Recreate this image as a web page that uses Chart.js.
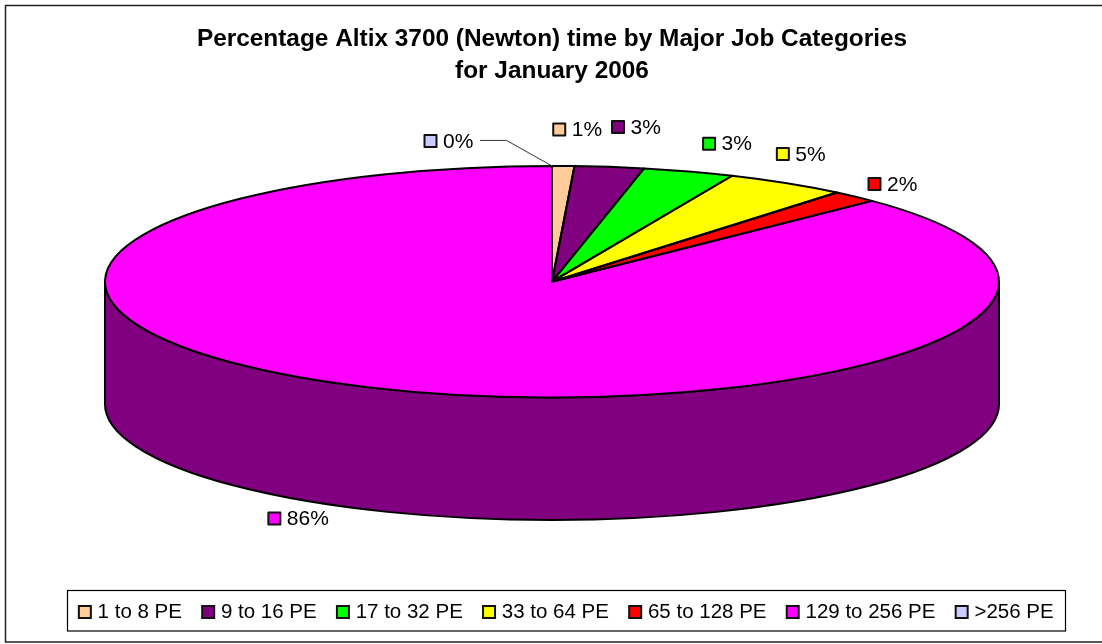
<!DOCTYPE html>
<html>
<head>
<meta charset="utf-8">
<style>html,body{margin:0;padding:0;background:#fff}canvas{display:block}</style>
<script src="https://cdn.jsdelivr.net/npm/chart.js@4"></script>
</head>
<body>
<canvas id="c" width="1102" height="644"></canvas>
<script>
const categories = ['1 to 8 PE','9 to 16 PE','17 to 32 PE','33 to 64 PE','65 to 128 PE','129 to 256 PE','>256 PE'];
const sliceValues = [0.8,2.5,3.3,4.4,1.7,87.3,0];
const percentLabels = ['1%','3%','3%','5%','2%','86%','0%'];
const sliceColors = ['#FFCC99','#800080','#00FF00','#FFFF00','#FF0000','#FF00FF','#CCCCFF'];
const sideColors = ['#806650','#400040','#008000','#808000','#800000','#800080','#666680'];
const chartTitle = ['Percentage Altix 3700 (Newton) time by Major Job Categories','for January 2006'];

const FONT = '"Liberation Sans", Arial, sans-serif';
const RX = 447, DEPTH = 122.5;
// label offset (swatch centre) from the rim point at each slice's mid-angle
const labelOffsets = [[-4,-36.5],[8.6,-40],[20.3,-27.8],[-3.9,-29.3],[19.6,-12.6],[-104,130],[-121.5,-25]];

const pie3d = {
  id:'pie3d',
  afterLayout(chart){
    const l = chart.legend;
    const dy = 578 - l.top, dx = 16;
    l.top += dy; l.bottom += dy; l.left += dx; l.right += dx;
  },
  beforeDraw(chart){
    const ctx = chart.ctx;
    ctx.save();
    ctx.strokeStyle = '#222'; ctx.lineWidth = 1.5;
    ctx.strokeRect(5.5,5.5,1100,636.5);
    ctx.strokeStyle = '#000'; ctx.lineWidth = 1.2;
    ctx.strokeRect(67.5,590.5,998,40.5);
    ctx.restore();
  },
  beforeDatasetsDraw(chart){
    const ctx = chart.ctx, arcs = chart.getDatasetMeta(0).data;
    const a0 = arcs[0], ry = a0.outerRadius, cx = a0.x, cy = a0.y;
    ctx.save();
    ctx.lineWidth = 2; ctx.strokeStyle = '#000'; ctx.lineJoin = 'round';
    arcs.forEach((a,i)=>{
      const s = Math.max(a.startAngle,0), e = Math.min(a.endAngle,Math.PI);
      if (s >= e) return;
      ctx.beginPath();
      ctx.ellipse(cx,cy,RX,ry,0,s,e,false);
      ctx.ellipse(cx,cy+DEPTH,RX,ry,0,e,s,true);
      ctx.closePath();
      ctx.fillStyle = sideColors[i];
      ctx.fill(); ctx.stroke();
    });
    ctx.restore();
    ctx.save();
    ctx.translate(cx,0); ctx.scale(RX/ry,1); ctx.translate(-cx,0);
  },
  afterDatasetsDraw(chart){
    const ctx = chart.ctx, arcs = chart.getDatasetMeta(0).data;
    ctx.restore();
    const a0 = arcs[0], ry = a0.outerRadius, cx = a0.x, cy = a0.y;
    ctx.save();
    ctx.lineWidth = 2; ctx.strokeStyle = '#000'; ctx.lineJoin = 'round';
    arcs.forEach(a=>{
      if (a.endAngle - a.startAngle <= 0) return;
      ctx.beginPath();
      ctx.moveTo(cx,cy);
      ctx.ellipse(cx,cy,RX,ry,0,a.startAngle,a.endAngle,false);
      ctx.closePath();
      ctx.stroke();
    });
    ctx.font = '21px '+FONT; ctx.textBaseline = 'middle'; ctx.textAlign = 'left';
    arcs.forEach((a,i)=>{
      const m = (a.startAngle+a.endAngle)/2;
      const ax = cx+RX*Math.cos(m), ay = cy+ry*Math.sin(m);
      const sx = ax+labelOffsets[i][0], sy = ay+labelOffsets[i][1];
      ctx.fillStyle = sliceColors[i];
      ctx.lineWidth = 2; ctx.strokeStyle = '#111';
      ctx.fillRect(sx-6,sy-6,12,12); ctx.strokeRect(sx-6,sy-6,12,12);
      ctx.fillStyle = '#000';
      ctx.fillText(percentLabels[i],sx+12.5,sy+1);
      if (i === arcs.length-1){
        ctx.lineWidth = 1; ctx.strokeStyle = '#333';
        ctx.beginPath();
        ctx.moveTo(sx+49.5,sy-0.5); ctx.lineTo(sx+76,sy-0.5); ctx.lineTo(ax,ay);
        ctx.stroke();
      }
    });
    ctx.restore();
  }
};

new Chart(document.getElementById('c'),{
  type:'pie',
  data:{labels:categories,datasets:[{data:sliceValues,backgroundColor:sliceColors,borderWidth:0,clip:false}]},
  options:{
    responsive:false,animation:false,
    layout:{padding:{left:2,right:0,top:0,bottom:192.25}},
    plugins:{
      title:{display:true,text:chartTitle,color:'#000',font:{family:FONT,size:24.4,weight:'bold',lineHeight:1.31},padding:{top:23,bottom:79}},
      legend:{
        display:true,position:'bottom',
        labels:{
          color:'#000',font:{family:FONT,size:20.5},boxWidth:5,boxHeight:12,padding:23.75,
          usePointStyle:true,pointStyle:'rect',
          generateLabels(chart){
            return Chart.overrides.doughnut.plugins.legend.labels.generateLabels(chart)
              .map(o=>Object.assign(o,{lineWidth:2,strokeStyle:'#111',pointStyle:'rect'}));
          }
        }
      },
      tooltip:{enabled:false}
    }
  },
  plugins:[pie3d]
});
</script>
</body>
</html>
